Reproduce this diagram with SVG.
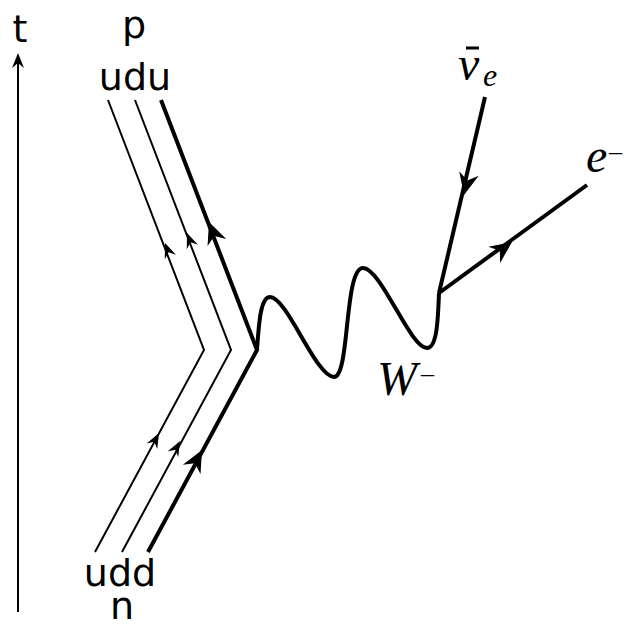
<svg xmlns="http://www.w3.org/2000/svg" width="640" height="638" viewBox="0 0 640 638">
<style>
.lbl{font-family:"DejaVu Sans",sans-serif;font-size:38px;fill:#000}
.math{font-family:"Liberation Serif","DejaVu Serif",serif;font-style:italic;fill:#000}
.thin{stroke:#000;stroke-width:2;fill:none}
.thick{stroke:#000;stroke-width:4;fill:none}
</style>
<defs>
<path id="ahs" d="M0,0 L-15,-6 L-10,0 L-15,6 Z" fill="#000"/>
<path id="ahl" d="M0,0 L-22,-10 L-15,0 L-22,10 Z" fill="#000"/>
</defs>
<rect width="640" height="638" fill="#fff"/>
<g id="time-axis">
<line x1="18" y1="612" x2="18" y2="60" class="thin"/>
<use href="#ahs" transform="translate(18,53) rotate(-90)"/>
<text class="lbl" x="20" y="42" text-anchor="middle">t</text>
</g>
<g id="proton">
<text class="lbl" x="134" y="38" text-anchor="middle">p</text>
<text class="lbl" x="135" y="90" text-anchor="middle">udu</text>
</g>
<g id="neutron">
<text class="lbl" x="120" y="586" text-anchor="middle">udd</text>
<text class="lbl" x="122" y="619" text-anchor="middle">n</text>
</g>
<g id="connectors">
<polyline class="thin" points="95,552 204,350 108,100"/>
<polyline class="thin" points="122,552 231,350 135,100"/>
<polyline class="thick" points="148,552 257,350 161,100"/>
<use href="#ahs" transform="translate(165,243) rotate(-111)"/>
<use href="#ahs" transform="translate(187,233) rotate(-111)"/>
<use href="#ahl" transform="translate(209,222) rotate(-111)"/>
<use href="#ahs" transform="translate(159,433) rotate(-62)"/>
<use href="#ahs" transform="translate(180,441) rotate(-62)"/>
<use href="#ahl" transform="translate(202,450) rotate(-62)"/>
<path class="thick" d="M257,350 C259,320 261,297 270,297 C287,297 316,377 334,377 C350,377 344,268 363,268 C381,268 410,348 427,348 C437,348 438,320 439,293"/>
<line class="thick" x1="485" y1="97" x2="439" y2="293"/>
<line class="thick" x1="439" y1="293" x2="587" y2="185"/>
<use href="#ahl" transform="translate(464,195) rotate(103)"/>
<use href="#ahl" transform="translate(512,242) rotate(-36)"/>
</g>
<g id="W-boson">
<text class="math" x="377" y="395" font-size="48">W</text>
<text class="math" x="421" y="382" font-size="26" font-style="normal">–</text>
</g>
<g id="antineutrino">
<text class="math" x="458" y="80" font-size="48">ν</text>
<line x1="466" y1="48" x2="479" y2="48" stroke="#000" stroke-width="3"/>
<text class="math" x="483" y="86" font-size="32">e</text>
</g>
<g id="electron">
<text class="math" x="586" y="172" font-size="48">e</text>
<text class="math" x="609" y="160" font-size="26" font-style="normal">–</text>
</g>
</svg>
